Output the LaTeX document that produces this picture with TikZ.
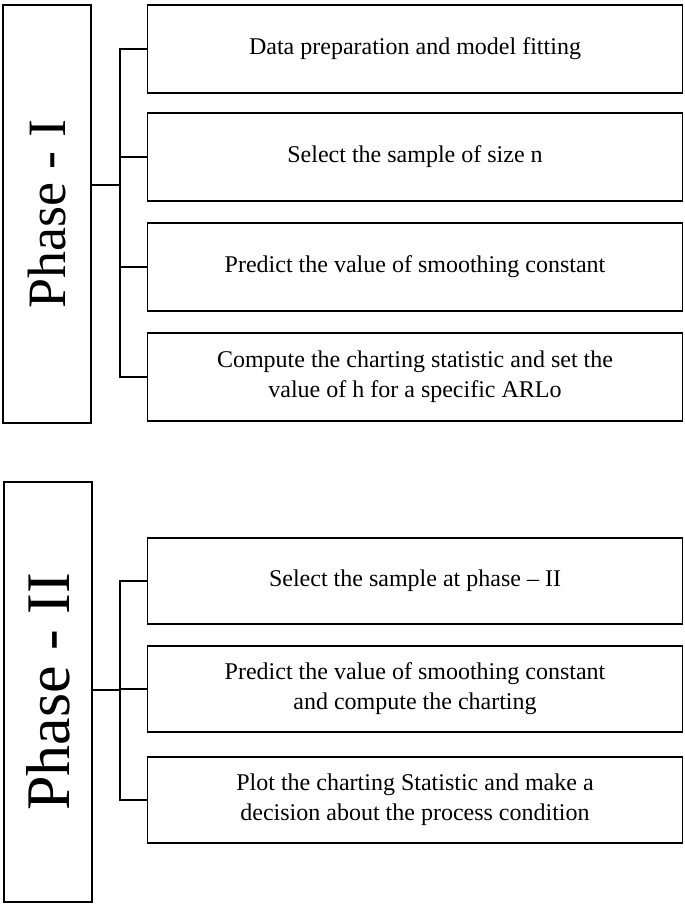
\documentclass[tikz,border=0pt]{standalone}
\usepackage{fontspec}
\setmainfont{Liberation Serif}
\usetikzlibrary{positioning}
\begin{document}
\begin{tikzpicture}[x=1pt,y=-1pt,
      phase/.style={draw,line width=1.5pt,minimum width=88pt,inner sep=0pt},
      step box/.style={draw,line width=1.5pt,minimum width=535pt,minimum height=88pt,align=center,
        font=\fontsize{24}{30}\selectfont,inner sep=2pt},
      link/.style={line width=1.5pt}
    ]
    \useasboundingbox (0,0) rectangle (685,905);
    % Phase I
    \node[phase,minimum height=418pt] (p1) at (47,214)
      {\rotatebox{90}{\fontsize{54}{60}\selectfont Phase - I}};
    \node[step box] (a1) at (415,49) {Data preparation and model fitting};
    \node[step box] (a2) at (415,157) {Select the sample of size n};
    \node[step box] (a3) at (415,267) {Predict the value of smoothing constant};
    \node[step box] (a4) at (415,377) {Compute the charting statistic and set the\\value of h for a specific ARLo};
    \coordinate (j1) at (120,185);
    \draw[link] (p1.east |- j1) -- (j1);
    \draw[link] (a1.west) -| (j1);
    \draw[link] (a4.west) -| (j1);
    \draw[link] (a2.west) -- (a2.west -| j1);
    \draw[link] (a3.west) -- (a3.west -| j1);
    % Phase II
    \node[phase,minimum height=420pt] (p2) at (48,692)
      {\rotatebox{90}{\fontsize{62}{64}\selectfont Phase - II}};
    \node[step box,minimum height=86pt] (b1) at (415,581) {Select the sample at phase -- II};
    \node[step box,minimum height=86pt] (b2) at (415,689) {Predict the value of smoothing constant\\and compute the charting};
    \node[step box,minimum height=86pt] (b3) at (415,800) {Plot the charting Statistic and make a\\decision about the process condition};
    \coordinate (j2) at (120,690);
    \draw[link] (p2.east |- j2) -- (j2);
    \draw[link] (b1.west) -| (j2);
    \draw[link] (b3.west) -| (j2);
    \draw[link] (b2.west) -- (b2.west -| j2);
\end{tikzpicture}
\end{document}
